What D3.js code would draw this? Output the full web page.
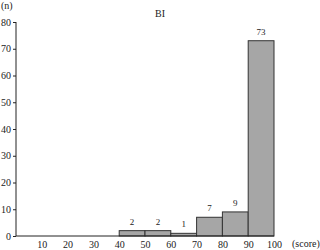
<!DOCTYPE html>
<html><head><meta charset="utf-8">
<script src="https://cdn.jsdelivr.net/npm/d3@7"></script>
<style>body{margin:0;background:#fff}text{font-family:"Liberation Serif","Times New Roman",serif}</style>
</head><body><svg id="c" width="320" height="250"></svg>
<script>
const binStarts = [0,10,20,30,40,50,60,70,80,90];
const counts = [0,0,0,0,2,2,1,7,9,73];
const xTicks = [10,20,30,40,50,60,70,80,90,100];
const yTicks = [0,10,20,30,40,50,60,70,80];

const svg = d3.select("#c");
const x = d3.scaleLinear().domain([0,100]).range([16,274]);
const y = d3.scaleLinear().domain([0,80]).range([236,22]);

const bins = binStarts.map((s,i)=>({s, e:s+10, c:counts[i]})).filter(d=>d.c>0);
svg.selectAll("rect.bar").data(bins).enter().append("rect")
  .attr("x",d=>x(d.s)).attr("width",d=>x(d.e)-x(d.s))
  .attr("y",d=>y(d.c)).attr("height",d=>y(0)-y(d.c))
  .attr("fill","#a6a6a6").attr("stroke","#333").attr("stroke-width",1);
svg.selectAll("text.v").data(bins).enter().append("text")
  .attr("x",d=>(x(d.s)+x(d.e))/2).attr("y",d=>y(d.c)-6)
  .attr("text-anchor","middle").attr("font-size",9).attr("fill","#222").text(d=>d.c);

// y axis
const ya = svg.append("g").attr("transform","translate(16,0)")
  .call(d3.axisLeft(y).tickValues(yTicks).tickSize(3).tickPadding(2));
ya.select(".domain").attr("d",`M0,${y(80)}V${y(0)}`).attr("stroke","#222");
ya.selectAll("line").attr("stroke","#222");
ya.selectAll("text").attr("font-size",10).attr("fill","#222").attr("font-family","Liberation Serif");

// x axis
const xa = svg.append("g").attr("transform",`translate(0,${y(0)})`)
  .call(d3.axisBottom(x).tickValues(xTicks).tickSize(0).tickPadding(5));
xa.select(".domain").attr("d",`M${x(0)},0H${x(100)}`).attr("stroke","#222");
xa.selectAll("text").attr("font-size",10).attr("fill","#222").attr("font-family","Liberation Serif");

svg.append("text").attr("x",160).attr("y",17).attr("text-anchor","middle").attr("font-size",10).attr("fill","#222").text("BI");
svg.append("text").attr("x",1).attr("y",9).attr("font-size",10).attr("fill","#222").text("(n)");
svg.append("text").attr("x",292).attr("y",247).attr("font-size",10).attr("fill","#222").text("(score)");
</script></body></html>
